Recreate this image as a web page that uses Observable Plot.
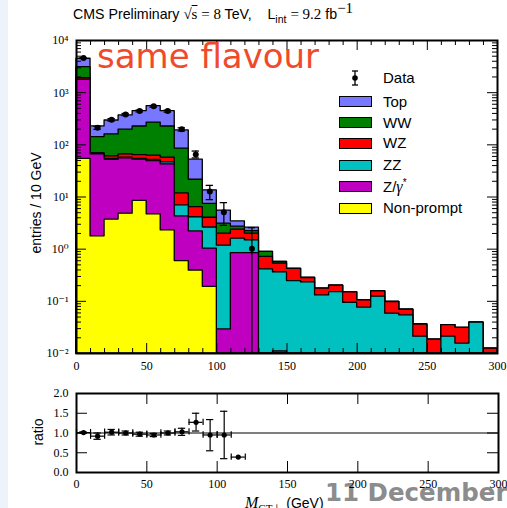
<!DOCTYPE html>
<html>
<head>
<meta charset="utf-8">
<script src="https://cdn.jsdelivr.net/npm/d3@7"></script>
<script src="https://cdn.jsdelivr.net/npm/@observablehq/plot@0.6"></script>
<style>
  html, body { margin: 0; padding: 0; background: #fff; }
  #page { position: relative; width: 507px; height: 508px; overflow: hidden; background: #fff; }
  #strip { position: absolute; left: 0; top: 0; width: 8px; height: 508px; background: #edf3fb; }
  #page svg { position: absolute; left: 0; }
  .abs { position: absolute; white-space: nowrap; }
  #title { left: 73px; top: 6px; font: 14.2px "Liberation Sans", Arial, sans-serif; color: #000; }
  #title .m { font-family: "Liberation Serif", "DejaVu Serif", serif; font-size: 15px; }
  #title sub { font-size: 10.5px; line-height: 0; }
  #title sup { font-size: 10px; line-height: 0; }
  #flav { left: 97px; top: 36px; font: 34px "DejaVu Sans", sans-serif; color: #f14a2b; }
  #ylab, #rlab { font: 14px "Liberation Sans", Arial, sans-serif; transform: translate(-50%, -50%) rotate(-90deg); }
  #xlab { left: 245px; top: 494px; font: 14px "Liberation Sans", Arial, sans-serif; }
  #xlab i { font-family: "Liberation Serif", serif; font-size: 16px; }
  #xlab sub { font-family: "Liberation Serif", serif; font-size: 11px; }
  #date { left: 325px; top: 478px; font: bold 24.5px "DejaVu Sans", sans-serif; color: #8c8c8c; }
  .leg { position: absolute; font: 15px "Liberation Sans", Arial, sans-serif; line-height: 1; }
  .sw { position: absolute; width: 31px; height: 9px; border: 1px solid #000; }
</style>
</head>
<body>
<div id="page">
  <div id="strip"></div>
</div>
<script>
// Bin lower edges (GeV), 10 GeV wide bins
const binLow = [0, 10, 20, 30, 40, 50, 60, 70, 80, 90, 100, 110, 120, 130, 140,
                150, 160, 170, 180, 190, 200, 210, 220, 230, 240, 250, 260, 270, 280, 290];
const xMax = 300;

// Expected entries per bin for each process
const nonPrompt = [54, 1.76, 3.7, 4.8, 8.4, 4.65, 2.3, 0.59, 0.39, 0.19, 0, 0, 0, 0, 0,
                   0, 0, 0, 0, 0, 0, 0, 0, 0, 0, 0, 0, 0, 0, 0];
const zGamma    = [1710, 63.7, 48, 50, 43.6, 44, 40, 3.66, 1.8, 0.83, 0.029, 0.84, 0.84, 0, 0.011,
                   0, 0, 0, 0, 0, 0, 0, 0, 0, 0, 0, 0, 0, 0, 0];
const zz        = [20, 1.5, 2, 2, 1.5, 2.7, 3.8, 2.65, 1.9, 1.58, 1.14, 0.75, 0.64, 0.41, 0.35,
                   0.245, 0.23, 0.13, 0.15, 0.094, 0.076, 0.123, 0.058, 0.054, 0.021, 0, 0.021, 0.0155, 0.039, 0];
const wz        = [120, 2, 6.3, 8.7, 10, 11, 10.6, 4.8, 2.3, 1.4, 0.81, 0.78, 0.5, 0.3, 0.17,
                   0.175, 0.05, 0.045, 0.05, 0.055, 0.028, 0.032, 0.039, 0.015, 0.015, 0.0185, 0.014, 0.0155, 0, 0.0124];
const ww        = [1180, 72, 98, 130, 161, 205, 168, 73, 15, 3.4, 1.12, 0.33, 0.24, 0.18, 0.04,
                   0, 0, 0, 0, 0, 0, 0, 0, 0, 0, 0, 0, 0, 0, 0];
const topQuark  = [1380, 84, 135, 171, 218, 284, 218, 104, 30.6, 6.0, 2.4, 0.7, 0.36, 0, 0,
                   0, 0, 0, 0, 0, 0, 0, 0, 0, 0, 0, 0, 0, 0, 0];

// Observed data (bin centres, counts, error band)
const dataX  = [5, 15, 25, 35, 45, 55, 65, 75, 85, 95, 105, 125];
const dataY  = [4600, 212, 302, 382, 446, 548, 443, 198, 65, 12.8, 5.1, 1.02];
const dataLo = [4520, 198, 286, 365, 428, 528, 424, 184, 56, 8.9, 2.86, 0.01];
const dataHi = [4680, 226, 318, 399, 464, 568, 462, 212, 76, 16.7, 7.8, 2.58];

// Data / expectation ratio
const ratioX  = [5, 15, 25, 35, 45, 55, 65, 75, 85, 95, 105, 115];
const ratioY  = [1.01, 0.92, 1.02, 1.0, 0.97, 0.95, 1.0, 1.03, 1.27, 0.95, 0.95, 0.39];
const ratioLo = [0.99, 0.84, 0.95, 0.95, 0.92, 0.91, 0.95, 0.94, 1.05, 0.55, 0.35, 0.39];
const ratioHi = [1.03, 1.00, 1.09, 1.05, 1.02, 0.99, 1.05, 1.12, 1.50, 1.34, 1.55, 0.39];

// Tick values and labels
const xMajor = [0, 50, 100, 150, 200, 250, 300];
const yDecades = [0.01, 0.1, 1, 10, 100, 1000, 10000];
const yDecadeLabels = ["10⁻²", "10⁻¹", "10⁰", "10¹", "10²", "10³", "10⁴"];
const rMajor = [0, 0.5, 1, 1.5, 2];
const rLabels = ["0.0", "0.5", "1.0", "1.5", "2.0"];

const processes = [
  {name: "Non-prompt", values: nonPrompt, color: "#ffff00"},
  {name: "Z/γ*",       values: zGamma,    color: "#c000c0"},
  {name: "ZZ",         values: zz,        color: "#00c0c0"},
  {name: "WZ",         values: wz,        color: "#ff0000"},
  {name: "WW",         values: ww,        color: "#008000"},
  {name: "Top",        values: topQuark,  color: "#7777ff"}
];

const serif = "'Liberation Serif', 'DejaVu Serif', serif";
const yFloor = yDecades[0];

// Cumulative stack, bottom (non-prompt) to top (top quark)
let running = binLow.map(() => 0);
const layers = processes.map(p => {
  running = running.map((r, i) => r + p.values[i]);
  return {...p, cum: running.slice()};
});

// Each cumulative layer is a filled step histogram; draw the tallest first
const stackMarks = layers.slice().reverse().map(l => {
  const pts = binLow.map((x, i) => ({x, y: Math.max(l.cum[i], yFloor)}));
  pts.push({x: xMax, y: pts[pts.length - 1].y});
  return Plot.areaY(pts, {
    x: "x", y1: yFloor, y2: "y", curve: "step-after",
    fill: l.color, stroke: "#000", strokeWidth: 1.3
  });
});

const dataRows = dataX.map((x, i) => ({x, y: dataY[i], lo: dataLo[i], hi: dataHi[i]}));
const ratioRows = ratioX.map((x, i) => ({x, y: ratioY[i], lo: ratioLo[i], hi: ratioHi[i]}));

// Inward-pointing ticks on all four sides of a frame
function insideTicks(vals, axis, len, fw, fh) {
  const o = {stroke: "#000", strokeWidth: 1};
  if (axis === "x") return [
    Plot.tickX(vals, {...o, x: d => d, insetTop: fh - len}),
    Plot.tickX(vals, {...o, x: d => d, insetBottom: fh - len})
  ];
  return [
    Plot.tickY(vals, {...o, y: d => d, insetRight: fw - len}),
    Plot.tickY(vals, {...o, y: d => d, insetLeft: fw - len})
  ];
}

// ---- Main panel ----
const M = {top: 40, bottom: 27, left: 76, right: 10, width: 507, height: 380};
const fwM = M.width - M.left - M.right, fhM = M.height - M.top - M.bottom;
const xMinor = binLow.filter(v => v % 50 !== 0);
const yMinor = yDecades.slice(0, -1).flatMap(d => [2, 3, 4, 5, 6, 7, 8, 9].map(k => k * d));

const main = Plot.plot({
  width: M.width, height: M.height,
  marginTop: M.top, marginBottom: M.bottom, marginLeft: M.left, marginRight: M.right,
  style: {background: "transparent", overflow: "visible"},
  x: {domain: [0, xMax], label: null},
  y: {type: "log", domain: [yFloor, 10000], label: null},
  marks: [
    ...stackMarks,
    Plot.ruleX(dataRows, {x: "x", y1: "lo", y2: "hi", stroke: "#000", strokeWidth: 1.3}),
    Plot.ruleY(dataRows, {y: "hi", x1: d => d.x - 2.6, x2: d => d.x + 2.6, stroke: "#000", strokeWidth: 1.3}),
    Plot.ruleY(dataRows.filter(d => d.lo > yFloor), {y: "lo", x1: d => d.x - 2.6, x2: d => d.x + 2.6, stroke: "#000", strokeWidth: 1.3}),
    Plot.dot(dataRows, {x: "x", y: "y", r: 3, fill: "#000"}),
    ...insideTicks(xMinor, "x", 5, fwM, fhM),
    ...insideTicks(xMajor, "x", 10, fwM, fhM),
    ...insideTicks(yMinor, "y", 5, fwM, fhM),
    ...insideTicks(yDecades, "y", 10, fwM, fhM),
    Plot.frame({stroke: "#000", strokeWidth: 2}),
    Plot.axisX(xMajor, {tickSize: 0, tickPadding: 8, fontSize: 12, fontFamily: serif, label: null}),
    Plot.axisY(yDecades, {tickSize: 0, tickPadding: 8, fontSize: 12, fontFamily: serif, label: null,
      tickFormat: d => yDecadeLabels[yDecades.indexOf(d)]})
  ]
});
main.style.top = "0px";

// ---- Ratio panel ----
const R = {top: 13, bottom: 36, left: 76, right: 9, width: 507, height: 128};
const fwR = R.width - R.left - R.right, fhR = R.height - R.top - R.bottom;
const ratio = Plot.plot({
  width: R.width, height: R.height,
  marginTop: R.top, marginBottom: R.bottom, marginLeft: R.left, marginRight: R.right,
  style: {background: "transparent", overflow: "visible"},
  x: {domain: [0, xMax], label: null},
  y: {domain: [0, 2], label: null},
  marks: [
    Plot.ruleY([1], {stroke: "#000", strokeWidth: 1.2}),
    Plot.ruleY(ratioRows, {y: "y", x1: d => d.x - 5, x2: d => d.x + 5, stroke: "#000", strokeWidth: 1.2}),
    Plot.ruleX(ratioRows, {x: d => d.x - 5, y1: d => d.y - 0.08, y2: d => d.y + 0.08, stroke: "#000", strokeWidth: 1.2}),
    Plot.ruleX(ratioRows, {x: d => d.x + 5, y1: d => d.y - 0.08, y2: d => d.y + 0.08, stroke: "#000", strokeWidth: 1.2}),
    Plot.ruleX(ratioRows.filter(d => d.hi > d.lo), {x: "x", y1: "lo", y2: "hi", stroke: "#000", strokeWidth: 1.2}),
    Plot.ruleY(ratioRows.filter(d => d.hi > d.lo), {y: "hi", x1: d => d.x - 2.6, x2: d => d.x + 2.6, stroke: "#000", strokeWidth: 1.2}),
    Plot.ruleY(ratioRows.filter(d => d.hi > d.lo), {y: "lo", x1: d => d.x - 2.6, x2: d => d.x + 2.6, stroke: "#000", strokeWidth: 1.2}),
    Plot.dot(ratioRows, {x: "x", y: "y", r: 2.6, fill: "#000"}),
    ...insideTicks(xMajor, "x", 11, fwR, fhR),
    ...insideTicks(rMajor, "y", 11, fwR, fhR),
    Plot.frame({stroke: "#000", strokeWidth: 2}),
    Plot.axisX(xMajor, {tickSize: 0, tickPadding: 7, fontSize: 12, fontFamily: serif, label: null}),
    Plot.axisY(rMajor, {tickSize: 0, tickPadding: 8, fontSize: 12, fontFamily: serif, label: null,
      tickFormat: d => rLabels[rMajor.indexOf(d)]})
  ]
});
ratio.style.top = "380px";

const page = document.getElementById("page");

// Grey date stamp sits beneath the plots
const date = document.createElement("div");
date.className = "abs"; date.id = "date"; date.textContent = "11 December";
page.appendChild(date);

page.appendChild(main);
page.appendChild(ratio);

function addHTML(html) {
  const t = document.createElement("template");
  t.innerHTML = html.trim();
  page.appendChild(t.content.firstChild);
}

addHTML(`<div class="abs" id="title">CMS Preliminary <span class="m">√<span style="text-decoration: overline">s</span> = 8</span> TeV,&nbsp;&nbsp;&nbsp; L<sub>int</sub> <span class="m">= 9.2</span> fb<sup class="m">−1</sup></div>`);
addHTML(`<div class="abs" id="flav">same flavour</div>`);
addHTML(`<div class="abs" id="ylab" style="left:36px;top:203px">entries / 10 GeV</div>`);
addHTML(`<div class="abs" id="rlab" style="left:38px;top:432px">ratio</div>`);
addHTML(`<div class="abs" id="xlab"><i>M</i><sub>CT⊥</sub> (GeV)</div>`);

// Legend
const legendRows = [
  {name: "Top", y: 101.5}, {name: "WW", y: 122.7}, {name: "WZ", y: 143.3},
  {name: "ZZ", y: 165}, {name: "Z/γ*", y: 186}, {name: "Non-prompt", y: 208.3}
];
addHTML(`<svg width="20" height="16" style="position:absolute;left:345px;top:70px;overflow:visible">
  <line x1="10" y1="1" x2="10" y2="15" stroke="#000" stroke-width="1.3"/>
  <line x1="7" y1="1" x2="13" y2="1" stroke="#000" stroke-width="1.3"/>
  <line x1="7" y1="15" x2="13" y2="15" stroke="#000" stroke-width="1.3"/>
  <circle cx="10" cy="8" r="2.8" fill="#000"/></svg>`);
addHTML(`<div class="leg" style="left:383px;top:${78 - 8}px">Data</div>`);
legendRows.forEach(r => {
  const p = processes.find(q => q.name === r.name);
  addHTML(`<div class="sw" style="left:339px;top:${r.y - 5.5}px;background:${p.color}"></div>`);
  const label = r.name === "Z/γ*"
    ? `Z/<i style="font-family:'Liberation Serif',serif;font-size:16px">γ</i><sup style="font-size:10px">*</sup>`
    : r.name;
  addHTML(`<div class="leg" style="left:383px;top:${r.y - 8}px">${label}</div>`);
});
</script>
</body>
</html>
